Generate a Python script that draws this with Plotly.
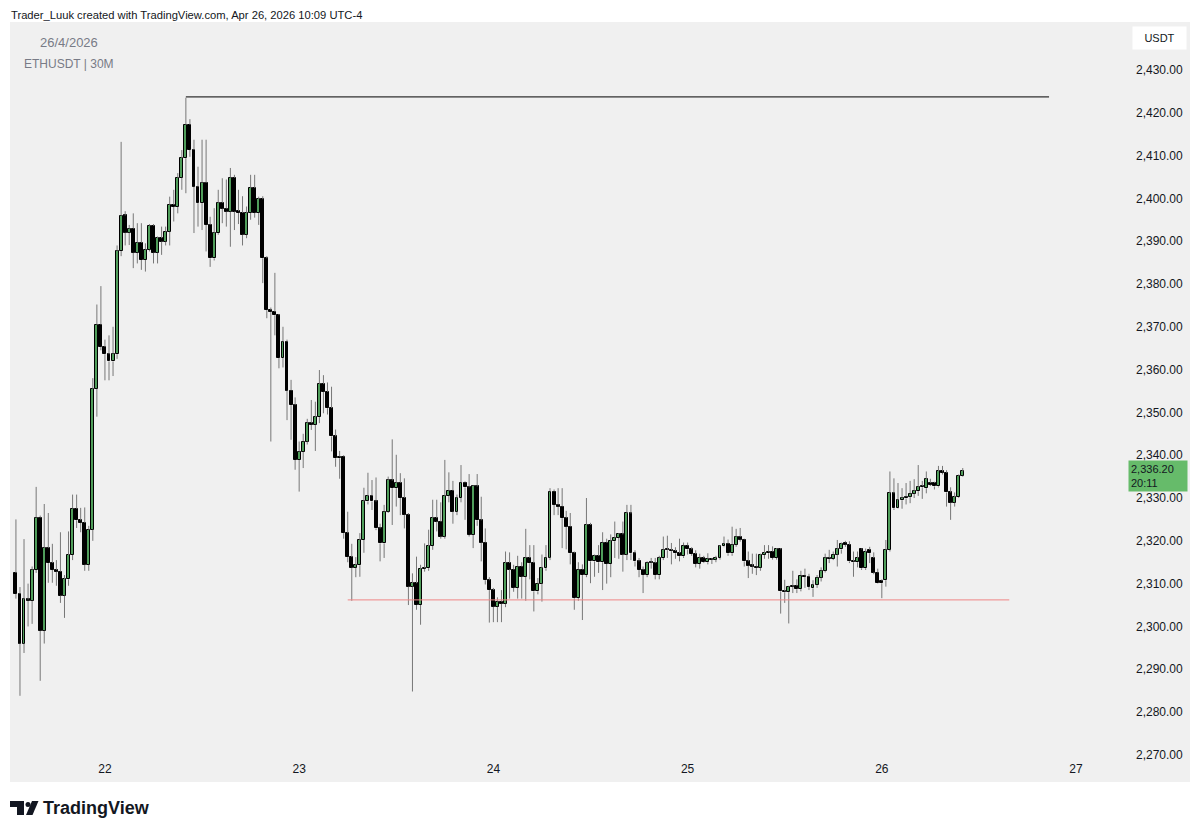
import pandas as pd
import plotly.graph_objects as go

# ---------------- data (ETHUSDT, 30 minute bars) ----------------
first_bar = "2026-04-21 13:00"
bar_freq = "30min"

opens = [
    2312.5, 2307.6, 2296.0, 2306.3, 2306.0, 2313.2, 2325.4, 2299.0, 2318.3, 2314.8,
    2313.2, 2312.8, 2307.2, 2311.0, 2316.7, 2327.5, 2324.8, 2324.2, 2314.4, 2322.6,
    2355.5, 2370.5, 2365.3, 2363.6, 2361.9, 2363.6, 2387.7, 2396.0, 2392.0, 2392.9,
    2387.3, 2389.6, 2385.6, 2388.0, 2393.6, 2387.3, 2390.7, 2389.9, 2392.2, 2398.5,
    2398.0, 2404.8, 2409.4, 2417.2, 2411.3, 2402.7, 2398.9, 2403.6, 2393.8, 2386.0,
    2391.9, 2398.9, 2397.6, 2396.9, 2404.8, 2397.0, 2396.6, 2391.5, 2396.6, 2402.4,
    2396.6, 2399.8, 2386.0, 2373.9, 2373.5, 2372.7, 2362.7, 2366.5, 2355.1, 2351.7,
    2338.9, 2340.8, 2343.2, 2347.5, 2347.1, 2348.9, 2356.6, 2354.8, 2351.0, 2344.4,
    2339.3, 2339.7, 2321.8, 2316.2, 2313.7, 2314.3, 2320.2, 2329.2, 2330.5, 2329.2,
    2322.9, 2319.4, 2326.8, 2334.1, 2332.3, 2333.5, 2330.0, 2326.1, 2309.3, 2310.1,
    2305.0, 2313.4, 2313.6, 2318.8, 2325.3, 2324.5, 2321.0, 2330.5, 2331.7, 2326.8,
    2330.0, 2333.6, 2332.5, 2321.4, 2332.7, 2324.8, 2319.6, 2310.8, 2308.5, 2304.6,
    2305.8, 2305.3, 2314.8, 2313.3, 2309.0, 2314.0, 2311.6, 2316.0, 2314.8, 2308.2,
    2310.0, 2313.6, 2316.1, 2331.5, 2328.4, 2328.0, 2325.3, 2323.3, 2317.1, 2306.6,
    2313.3, 2312.0, 2323.7, 2315.2, 2316.5, 2315.0, 2319.6, 2314.6, 2319.9, 2320.7,
    2321.5, 2316.8, 2326.4, 2317.1, 2315.2, 2313.2, 2312.0, 2314.9, 2314.8, 2312.0,
    2316.0, 2317.9, 2317.8, 2317.6, 2317.1, 2316.4, 2318.9, 2318.0, 2316.9, 2314.6,
    2316.0, 2315.0, 2315.8, 2315.6, 2316.0, 2318.7, 2319.3, 2317.1, 2319.1, 2320.9,
    2320.3, 2315.2, 2314.2, 2314.0, 2313.7, 2316.7, 2317.1, 2317.5, 2316.0, 2318.0,
    2308.2, 2308.0, 2309.3, 2309.5, 2308.7, 2311.9, 2311.6, 2308.9, 2309.7, 2311.4,
    2313.0, 2316.0, 2315.8, 2316.8, 2318.0, 2319.6, 2319.1, 2315.2, 2315.0, 2318.0,
    2313.6, 2317.9, 2316.0, 2312.6, 2310.7, 2310.8, 2317.9, 2331.1, 2327.6, 2329.5,
    2329.9, 2330.3, 2331.0, 2331.6, 2332.5, 2332.3, 2333.5, 2333.5, 2332.7, 2336.2,
    2335.9, 2331.3, 2328.9, 2330.2, 2335.2,
]
highs = [
    2325.0, 2309.2, 2320.4, 2310.0, 2314.0, 2332.6, 2325.9, 2328.6, 2326.5, 2319.3,
    2315.5, 2322.0, 2312.0, 2322.2, 2330.8, 2330.8, 2327.7, 2327.8, 2323.5, 2358.0,
    2375.2, 2379.5, 2367.0, 2368.0, 2370.0, 2389.0, 2413.2, 2397.0, 2393.8, 2396.5,
    2394.2, 2394.2, 2389.5, 2394.0, 2394.0, 2391.1, 2393.4, 2393.4, 2400.4, 2402.0,
    2405.9, 2411.3, 2423.5, 2418.5, 2413.7, 2407.4, 2413.7, 2413.7, 2395.7, 2397.7,
    2402.0, 2404.7, 2404.4, 2407.1, 2405.5, 2402.0, 2400.5, 2398.1, 2405.5, 2405.5,
    2400.4, 2400.5, 2386.5, 2374.5, 2382.6, 2373.0, 2370.0, 2367.0, 2357.6, 2353.5,
    2343.2, 2345.0, 2348.5, 2352.9, 2352.5, 2359.9, 2358.7, 2357.0, 2356.0, 2346.0,
    2341.0, 2340.0, 2326.8, 2319.3, 2316.2, 2321.8, 2332.4, 2335.9, 2334.2, 2334.8,
    2324.0, 2328.4, 2335.0, 2343.7, 2340.1, 2335.8, 2334.6, 2326.5, 2312.4, 2316.3,
    2314.4, 2319.4, 2322.6, 2329.6, 2329.6, 2329.0, 2338.9, 2336.0, 2334.0, 2330.8,
    2337.7, 2333.9, 2335.6, 2333.0, 2335.6, 2330.3, 2322.9, 2311.5, 2309.0, 2306.8,
    2308.5, 2317.5, 2317.3, 2314.4, 2316.5, 2315.0, 2322.8, 2319.0, 2319.0, 2311.3,
    2316.8, 2319.0, 2332.3, 2332.0, 2332.3, 2332.3, 2327.0, 2326.5, 2317.5, 2315.0,
    2314.5, 2330.0, 2324.2, 2316.8, 2319.0, 2322.0, 2320.5, 2321.5, 2324.5, 2321.8,
    2324.5, 2328.4, 2328.4, 2317.8, 2316.0, 2314.0, 2315.2, 2316.0, 2316.0, 2316.5,
    2321.0, 2321.2, 2319.5, 2318.5, 2320.5, 2319.6, 2319.6, 2318.5, 2317.8, 2317.0,
    2316.5, 2317.1, 2316.0, 2316.5, 2319.0, 2321.0, 2320.3, 2323.3, 2322.8, 2323.0,
    2320.5, 2317.5, 2317.0, 2317.0, 2317.0, 2319.0, 2319.0, 2318.7, 2318.3, 2318.3,
    2310.9, 2309.5, 2313.0, 2311.0, 2313.0, 2313.5, 2312.3, 2310.8, 2312.0, 2313.8,
    2317.0, 2317.9, 2317.5, 2320.2, 2319.6, 2320.0, 2319.9, 2317.5, 2317.5, 2318.2,
    2318.2, 2318.6, 2317.3, 2313.5, 2311.0, 2320.2, 2336.2, 2334.6, 2333.5, 2332.3,
    2333.5, 2334.0, 2334.4, 2337.7, 2334.0, 2336.2, 2334.5, 2333.8, 2337.5, 2337.5,
    2336.5, 2332.5, 2331.3, 2335.5, 2337.0,
]
lows = [
    2306.5, 2283.8, 2293.8, 2300.0, 2300.6, 2312.5, 2287.3, 2296.0, 2310.2, 2310.2,
    2309.5, 2305.5, 2302.0, 2309.5, 2315.5, 2323.0, 2322.0, 2313.0, 2313.0, 2320.0,
    2349.0, 2364.5, 2357.5, 2357.5, 2358.5, 2362.5, 2386.5, 2389.0, 2389.1, 2383.7,
    2384.8, 2383.3, 2382.9, 2387.6, 2384.8, 2384.8, 2386.8, 2389.0, 2389.0, 2394.6,
    2396.5, 2402.0, 2401.2, 2409.7, 2391.9, 2393.4, 2392.6, 2387.6, 2384.0, 2385.5,
    2391.5, 2394.2, 2393.4, 2388.7, 2392.6, 2394.0, 2389.0, 2390.7, 2395.0, 2395.5,
    2393.8, 2380.2, 2372.0, 2343.2, 2368.0, 2360.3, 2360.5, 2348.2, 2343.6, 2336.6,
    2331.5, 2337.0, 2342.5, 2345.9, 2341.0, 2347.5, 2349.8, 2349.5, 2340.9, 2337.3,
    2334.5, 2320.5, 2315.0, 2306.0, 2311.5, 2311.6, 2317.2, 2328.5, 2327.2, 2322.5,
    2315.2, 2316.0, 2326.5, 2323.7, 2328.0, 2326.0, 2322.9, 2305.0, 2284.8, 2303.9,
    2300.4, 2312.8, 2313.0, 2317.9, 2322.2, 2320.5, 2320.5, 2329.0, 2324.0, 2326.0,
    2329.0, 2324.9, 2321.0, 2318.3, 2323.5, 2315.2, 2309.8, 2300.9, 2301.0, 2301.0,
    2301.0, 2304.5, 2306.5, 2308.1, 2306.5, 2306.5, 2306.0, 2311.0, 2303.5, 2307.5,
    2305.8, 2313.0, 2315.5, 2326.0, 2326.0, 2318.3, 2318.0, 2314.5, 2303.9, 2306.0,
    2301.5, 2311.5, 2310.1, 2311.6, 2312.5, 2308.5, 2310.0, 2311.5, 2316.0, 2315.8,
    2312.8, 2315.5, 2315.5, 2314.0, 2311.5, 2307.8, 2311.5, 2313.5, 2311.0, 2311.0,
    2315.5, 2316.0, 2314.5, 2315.8, 2315.2, 2316.0, 2316.8, 2316.5, 2313.8, 2313.5,
    2314.8, 2314.5, 2314.6, 2315.0, 2315.6, 2318.5, 2316.5, 2316.5, 2318.6, 2319.8,
    2314.0, 2311.3, 2312.3, 2312.0, 2313.0, 2315.8, 2315.8, 2315.6, 2315.6, 2303.0,
    2305.5, 2300.7, 2307.8, 2307.8, 2308.2, 2309.0, 2308.5, 2306.9, 2309.0, 2310.5,
    2312.6, 2314.8, 2315.5, 2314.0, 2317.0, 2318.6, 2314.8, 2311.6, 2313.8, 2313.2,
    2313.2, 2314.8, 2312.2, 2310.0, 2306.6, 2309.3, 2317.5, 2327.2, 2327.5, 2327.5,
    2328.5, 2328.8, 2330.0, 2330.5, 2329.8, 2331.1, 2332.8, 2332.0, 2332.5, 2335.5,
    2328.0, 2324.9, 2328.0, 2330.0, 2335.0,
]
closes = [
    2307.6, 2296.0, 2306.3, 2306.0, 2313.2, 2325.4, 2299.0, 2318.3, 2314.8, 2313.2,
    2312.8, 2307.2, 2311.0, 2316.7, 2327.5, 2324.8, 2324.2, 2314.4, 2322.6, 2355.5,
    2370.5, 2365.3, 2363.6, 2361.9, 2363.6, 2387.7, 2395.9, 2392.0, 2392.9, 2387.3,
    2389.6, 2385.6, 2388.0, 2393.6, 2387.3, 2390.7, 2389.9, 2392.2, 2398.5, 2398.0,
    2404.8, 2409.4, 2417.2, 2411.3, 2402.7, 2398.9, 2403.6, 2393.8, 2386.0, 2391.9,
    2398.9, 2397.6, 2396.9, 2404.8, 2396.9, 2396.6, 2391.5, 2396.6, 2402.4, 2396.6,
    2399.8, 2386.0, 2373.9, 2373.5, 2372.7, 2362.7, 2366.5, 2355.1, 2351.7, 2338.9,
    2340.8, 2343.2, 2347.5, 2347.1, 2348.9, 2356.6, 2354.8, 2351.0, 2344.4, 2339.3,
    2339.7, 2321.8, 2316.2, 2313.7, 2314.3, 2320.2, 2329.2, 2330.5, 2329.2, 2322.9,
    2319.4, 2326.8, 2334.1, 2332.3, 2333.5, 2330.0, 2326.1, 2309.3, 2310.1, 2305.0,
    2313.4, 2313.6, 2318.8, 2325.3, 2324.5, 2321.0, 2330.5, 2331.7, 2326.8, 2330.0,
    2333.6, 2332.5, 2321.4, 2332.7, 2324.8, 2319.6, 2310.8, 2308.5, 2304.6, 2305.8,
    2305.3, 2314.8, 2313.3, 2309.0, 2314.0, 2311.6, 2316.0, 2314.8, 2308.2, 2310.0,
    2313.6, 2316.1, 2331.5, 2328.4, 2328.0, 2325.3, 2323.3, 2317.1, 2306.6, 2313.3,
    2312.0, 2323.7, 2315.2, 2316.5, 2315.0, 2319.6, 2314.6, 2319.9, 2320.7, 2321.5,
    2316.8, 2326.4, 2317.1, 2315.2, 2313.2, 2312.0, 2314.9, 2314.8, 2312.0, 2316.0,
    2317.9, 2317.8, 2317.6, 2317.1, 2316.4, 2318.9, 2318.0, 2316.9, 2314.6, 2316.0,
    2315.0, 2315.8, 2315.6, 2316.0, 2318.7, 2319.3, 2317.1, 2319.1, 2320.9, 2320.3,
    2315.2, 2314.2, 2314.0, 2313.7, 2316.7, 2317.1, 2317.5, 2316.0, 2318.0, 2308.2,
    2308.0, 2309.3, 2309.5, 2308.7, 2311.9, 2311.6, 2309.2, 2309.7, 2311.4, 2313.0,
    2315.9, 2315.8, 2316.8, 2318.0, 2319.2, 2319.1, 2315.2, 2315.0, 2316.0, 2313.6,
    2317.4, 2317.1, 2312.6, 2310.1, 2310.1, 2317.9, 2331.1, 2327.6, 2329.5, 2329.9,
    2330.3, 2331.0, 2331.6, 2332.5, 2332.8, 2334.4, 2333.1, 2332.7, 2336.2, 2335.9,
    2331.3, 2328.9, 2330.2, 2335.2, 2336.2,
]

# axes
day_ticks = ["2026-04-22", "2026-04-23", "2026-04-24", "2026-04-25", "2026-04-26", "2026-04-27"]
day_labels = ["22", "23", "24", "25", "26", "27"]
price_ticks = [2270, 2280, 2290, 2300, 2310, 2320, 2330, 2340, 2350,
               2360, 2370, 2380, 2390, 2400, 2410, 2420, 2430]
x_range = ["2026-04-21 12:16", "2026-04-27 05:26"]
y_range = [2268.8, 2441.2]

# drawn levels
resistance_level = 2423.7
resistance_span = ["2026-04-22 10:00", "2026-04-26 20:40"]
support_level = 2306.2
support_span = ["2026-04-23 06:00", "2026-04-26 15:45"]

countdown = "20:11"

# ---------------- styling ----------------
# the page body adds an 8px margin, so the figure is drawn 8px smaller
OFF = 8
W, H = 1200 - OFF, 835 - OFF
ML, MR, MT, MB = 10 - OFF, 80, 22 - OFF, 75
FONT = "Liberation Sans, Arial, sans-serif"
TXT = "#131722"
BG = "#f0f0f0"
UP = "#4f9d5a"
WICK = "#777777"


def px_x(sx):
    """screen x (px) -> paper x"""
    return (sx - OFF - ML) / (W - ML - MR)


def px_y(sy):
    """screen y (px) -> paper y"""
    return (H - MB - (sy - OFF)) / (H - MT - MB)


times = pd.date_range(first_bar, periods=len(closes), freq=bar_freq)

up_x, up_base, up_h = [], [], []
dn_x, dn_base, dn_h = [], [], []
wx, wy = [], []
for t, o, h, l, c in zip(times, opens, highs, lows, closes):
    top, bot = max(o, c), min(o, c)
    size = max(top - bot, 0.25)
    if c >= o:
        up_x.append(t); up_base.append(bot); up_h.append(size)
    else:
        dn_x.append(t); dn_base.append(bot); dn_h.append(size)
    if h > top:
        wx += [t, t, None]; wy += [top, h, None]
    if l < bot:
        wx += [t, t, None]; wy += [l, bot, None]

bar_w = 30 * 60 * 1000 * 0.72

fig = go.Figure()
fig.add_trace(go.Scatter(x=wx, y=wy, mode="lines", line=dict(color=WICK, width=1),
                         hoverinfo="skip", showlegend=False))
fig.add_trace(go.Bar(x=up_x, y=up_h, base=up_base, width=bar_w,
                     marker=dict(color=UP, line=dict(color="#000000", width=1)),
                     showlegend=False))
fig.add_trace(go.Bar(x=dn_x, y=dn_h, base=dn_base, width=bar_w,
                     marker=dict(color="#000000", line=dict(color="#000000", width=1)),
                     showlegend=False))

shapes = [
    # chart panel background (plot + both axis strips)
    dict(type="rect", xref="paper", yref="paper", layer="below",
         x0=px_x(10), x1=px_x(1190), y0=px_y(782), y1=px_y(22),
         fillcolor=BG, line=dict(width=0)),
    # drawn levels
    dict(type="line", xref="x", yref="y", x0=resistance_span[0], x1=resistance_span[1],
         y0=resistance_level, y1=resistance_level, line=dict(color="#000000", width=1)),
    dict(type="line", xref="x", yref="y", x0=support_span[0], x1=support_span[1],
         y0=support_level, y1=support_level, line=dict(color="#ef8585", width=1)),
    # TradingView logo glyph
    dict(type="rect", xref="paper", yref="paper", x0=px_x(10), x1=px_x(24),
         y0=px_y(807), y1=px_y(801), fillcolor=TXT, line=dict(width=0)),
    dict(type="rect", xref="paper", yref="paper", x0=px_x(17), x1=px_x(24),
         y0=px_y(815), y1=px_y(801), fillcolor=TXT, line=dict(width=0)),
    dict(type="circle", xref="paper", yref="paper", x0=px_x(25.5), x1=px_x(30.5),
         y0=px_y(807), y1=px_y(802), fillcolor=TXT, line=dict(width=0)),
    dict(type="path", xref="paper", yref="paper",
         path=f"M {px_x(32)},{px_y(801)} L {px_x(38.5)},{px_y(801)} "
              f"L {px_x(32.5)},{px_y(815)} L {px_x(26)},{px_y(815)} Z",
         fillcolor=TXT, line=dict(width=0)),
]

annotations = [
    dict(xref="paper", yref="paper", x=px_x(10), y=px_y(OFF), xanchor="left", yanchor="top",
         text="Trader_Luuk created with TradingView.com, Apr 26, 2026 10:09 UTC-4",
         showarrow=False, borderpad=0, font=dict(family=FONT, size=11.2, color=TXT)),
    dict(xref="paper", yref="paper", x=px_x(38), y=px_y(43), xanchor="left", yanchor="middle",
         text="26/4/2026", showarrow=False, font=dict(family=FONT, size=13, color="#787b86")),
    dict(xref="paper", yref="paper", x=px_x(22), y=px_y(64), xanchor="left", yanchor="middle",
         text="ETHUSDT | 30M", showarrow=False, font=dict(family=FONT, size=12, color="#787b86")),
    dict(xref="paper", yref="paper", x=px_x(1159), y=px_y(38), xanchor="center", yanchor="middle",
         text="USDT", showarrow=False, bgcolor="#ffffff", width=47, height=16, borderpad=3,
         font=dict(family=FONT, size=11, color=TXT)),
    dict(xref="paper", yref="y", x=px_x(1128), y=closes[-1], yshift=-5, xanchor="left",
         yanchor="middle", text=f"{closes[-1]:,.2f}<br>{countdown}", align="left",
         showarrow=False, bgcolor="#66bb6a", width=54, borderpad=2,
         font=dict(family=FONT, size=11, color=TXT)),
    dict(xref="paper", yref="paper", x=px_x(41), y=px_y(808), xanchor="left", yanchor="middle",
         text="<b>TradingView</b>", showarrow=False,
         font=dict(family=FONT, size=18, color=TXT)),
]

fig.update_layout(
    width=W, height=H, autosize=False,
    margin=dict(l=ML, r=MR, t=MT, b=MB, pad=0),
    paper_bgcolor="#ffffff", plot_bgcolor="rgba(0,0,0,0)",
    barmode="overlay", bargap=0, showlegend=False, hovermode=False,
    shapes=shapes, annotations=annotations,
    xaxis=dict(type="date", range=x_range, tickvals=day_ticks, ticktext=day_labels,
               showgrid=False, zeroline=False, showline=False, ticks="",
               tickfont=dict(family=FONT, size=12, color=TXT)),
    yaxis=dict(side="right", range=y_range, tickvals=price_ticks, tickformat=",.2f",
               showgrid=False, zeroline=False, showline=False, ticks="",
               ticklabelstandoff=15,
               tickfont=dict(family=FONT, size=12, color=TXT)),
)

fig.write_html("out.html")
